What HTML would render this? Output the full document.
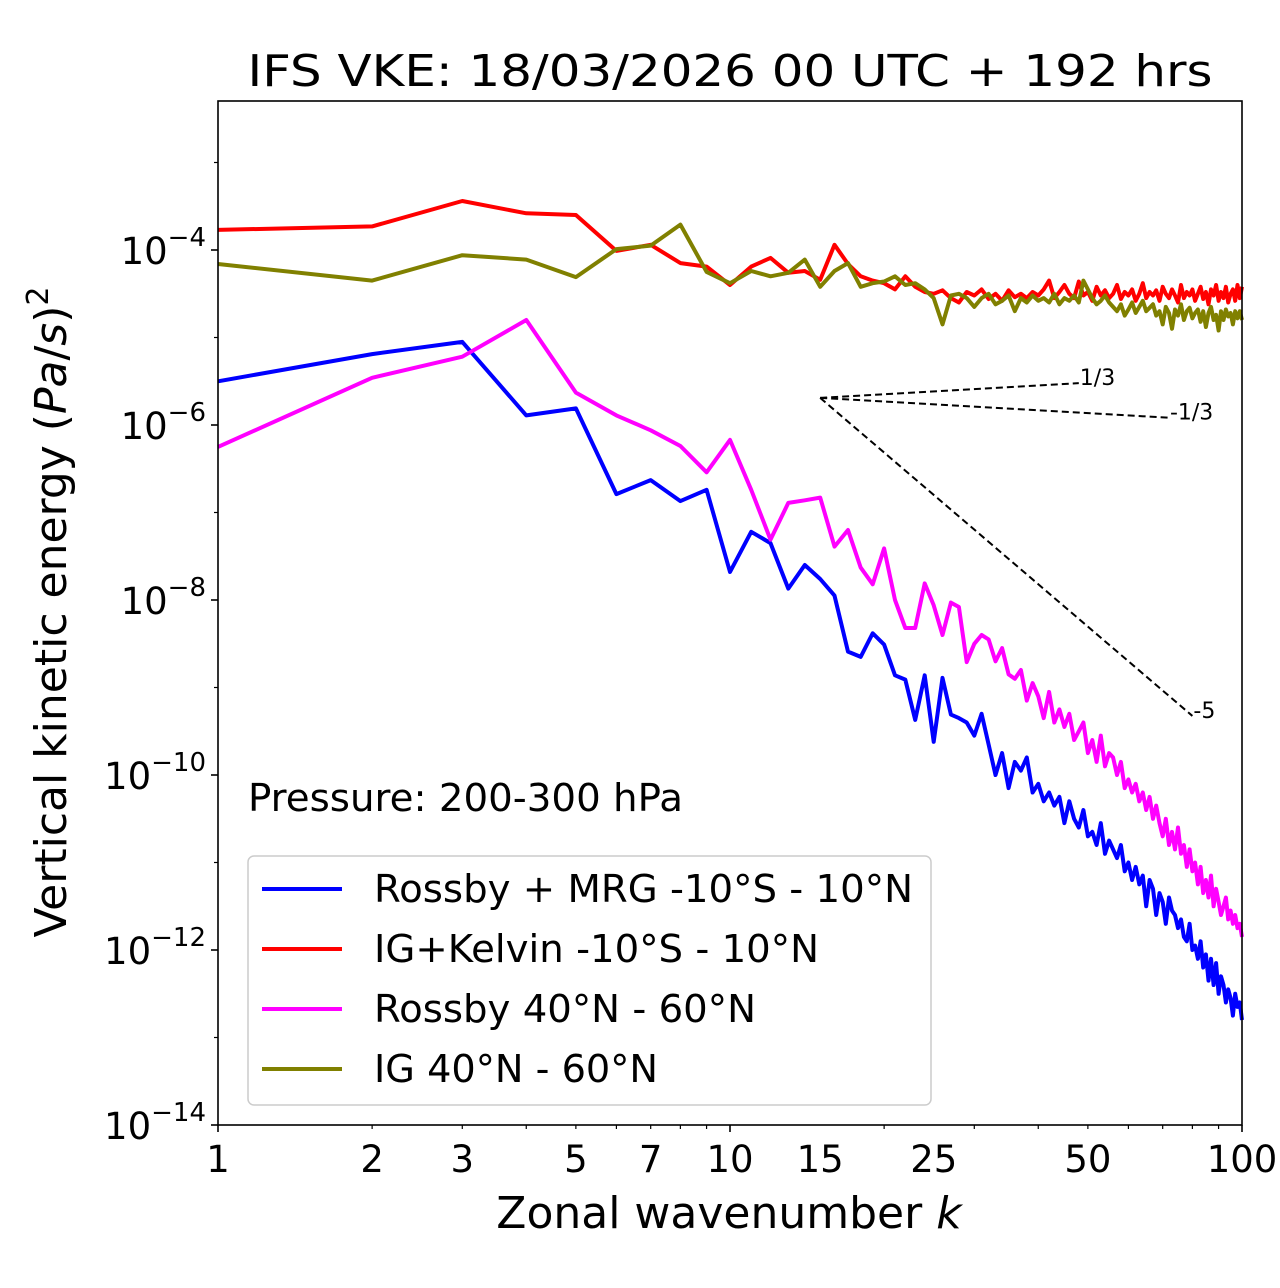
<!DOCTYPE html>
<html><head><meta charset="utf-8">
<style>
html,body{margin:0;padding:0;background:#fff;}
svg{display:block;font-family:"DejaVu Sans","Liberation Sans",sans-serif;}
</style></head>
<body>
<svg id="chart" width="1280" height="1288" viewBox="0 0 1280 1288" xmlns="http://www.w3.org/2000/svg">
<rect width="1280" height="1288" fill="#fff"/>
<text x="730" y="86" font-size="44" text-anchor="middle" textLength="965" lengthAdjust="spacingAndGlyphs">IFS VKE: 18/03/2026 00 UTC + 192 hrs</text>
<g id="plot"></g>
<rect x="218" y="101" width="1024" height="1024" fill="none" stroke="#000" stroke-width="1.6"/>
<text x="729" y="1228" font-size="44" text-anchor="middle">Zonal wavenumber <tspan font-style="italic">k</tspan></text>
<text transform="translate(66,612) rotate(-90)" font-size="44" text-anchor="middle">Vertical kinetic energy (<tspan font-style="italic">Pa</tspan>/<tspan font-style="italic">s</tspan>)<tspan font-size="30" dy="-18">2</tspan></text>
<text x="248" y="811" font-size="38" textLength="435" lengthAdjust="spacingAndGlyphs">Pressure: 200-300 hPa</text>
<g>
<rect x="248" y="856" width="683" height="249" rx="6" fill="#fff" fill-opacity="0.8" stroke="#ccc" stroke-width="1.5"/>
<g><line x1="262" y1="889" x2="342" y2="889" stroke="#0000ff" stroke-width="4"/><text x="374" y="902" font-size="38" textLength="539" lengthAdjust="spacingAndGlyphs">Rossby + MRG -10°S - 10°N</text></g>
<g><line x1="262" y1="949" x2="342" y2="949" stroke="#ff0000" stroke-width="4"/><text x="374" y="962" font-size="38" textLength="445" lengthAdjust="spacingAndGlyphs">IG+Kelvin -10°S - 10°N</text></g>
<g><line x1="262" y1="1009" x2="342" y2="1009" stroke="#ff00ff" stroke-width="4"/><text x="374" y="1022" font-size="38" textLength="382" lengthAdjust="spacingAndGlyphs">Rossby 40°N - 60°N</text></g>
<g><line x1="262" y1="1069" x2="342" y2="1069" stroke="#808000" stroke-width="4"/><text x="374" y="1082" font-size="38" textLength="284" lengthAdjust="spacingAndGlyphs">IG 40°N - 60°N</text></g>
</g>
</svg>
<script>
const xTickLabels = [1,2,3,5,7,10,15,25,50,100];
const yTickExps = [-4,-6,-8,-10,-12,-14];
const blueLog = [-5.50,-5.19,-5.05,-5.89,-5.81,-6.79,-6.63,-6.87,-6.74,-7.68,-7.22,-7.35,-7.87,-7.60,-7.76,-7.95,-8.59,-8.65,-8.38,-8.51,-8.86,-8.91,-9.37,-8.86,-9.62,-8.89,-9.31,
-9.35,-9.40,-9.55,-9.30,-9.65,-10.0,-9.75,-10.15,-9.85,-9.95,-9.8,-10.2,-10.1,-10.3,-10.2,-10.35,-10.25,-10.55,-10.3,-10.5,-10.6,-10.4,-10.7,-10.65,-10.8,-10.55,-10.9,-10.75,-10.85,-10.95,-10.8,-11.1,-11.0,-11.2,-11.05,-11.25,-11.15,-11.5,-11.2,-11.3,-11.6,-11.35,-11.45,-11.7,-11.4,-11.55,-11.6,-11.75,-11.65,-11.85,-11.9,-11.7,-12.0,-11.95,-12.1,-11.9,-12.2,-12.05,-12.35,-12.1,-12.4,-12.15,-12.5,-12.3,-12.4,-12.6,-12.45,-12.55,-12.75,-12.5,-12.65,-12.6,-12.8];
const redLog = [-3.77,-3.73,-3.44,-3.58,-3.60,-4.01,-3.94,-4.15,-4.19,-4.40,-4.19,-4.09,-4.26,-4.24,-4.34,-3.94,-4.16,-4.30,
-4.35,-4.38,-4.45,-4.30,-4.42,-4.48,-4.50,-4.46,-4.55,-4.60,
-4.48,-4.52,-4.45,-4.56,-4.50,-4.58,-4.46,-4.54,-4.50,-4.55,
-4.48,-4.52,-4.45,-4.35,-4.55,-4.48,-4.40,-4.50,-4.55,-4.36,
-4.52,-4.48,-4.58,-4.42,-4.52,-4.46,-4.55,-4.50,-4.40,-4.56,
-4.48,-4.52,-4.45,-4.58,-4.50,-4.38,-4.55,-4.48,-4.52,-4.46,
-4.58,-4.42,-4.50,-4.55,-4.45,-4.52,-4.60,-4.40,-4.55,-4.48,
-4.52,-4.45,-4.58,-4.50,-4.42,-4.56,-4.48,-4.62,-4.45,-4.52,
-4.40,-4.58,-4.48,-4.55,-4.42,-4.60,-4.50,-4.45,-4.58,-4.40,
-4.55,-4.42];
const magentaLog = [-6.25,-5.46,-5.22,-4.80,-5.63,-5.89,-6.06,-6.24,-6.54,-6.17,-6.74,-7.31,-6.89,-6.86,-6.83,-7.39,-7.20,-7.63,-7.82,-7.41,-8.0,-8.32,-8.32,-7.81,-8.06,-8.40,-8.03,-8.08,-8.71,
-8.5,-8.4,-8.45,-8.7,-8.55,-8.85,-8.9,-8.8,-9.15,-8.95,-9.1,-9.35,-9.05,-9.4,-9.25,-9.45,-9.3,-9.6,-9.5,-9.4,-9.75,-9.6,-9.85,-9.55,-9.9,-9.75,-9.8,-10.0,-9.85,-10.15,-10.05,-10.2,-10.1,-10.3,-10.2,-10.4,-10.25,-10.5,-10.35,-10.55,-10.7,-10.5,-10.8,-10.65,-10.85,-10.6,-10.9,-10.8,-11.05,-10.85,-11.1,-11.0,-11.25,-11.05,-11.35,-11.2,-11.4,-11.15,-11.5,-11.3,-11.45,-11.6,-11.5,-11.4,-11.65,-11.55,-11.7,-11.6,-11.75,-11.7,-11.85];
const oliveLog = [-4.16,-4.35,-4.06,-4.11,-4.31,-3.99,-3.95,-3.71,-4.25,-4.38,-4.24,-4.30,-4.26,-4.11,-4.42,-4.24,-4.15,-4.42,
-4.38,-4.36,-4.30,-4.40,-4.38,-4.45,-4.55,-4.85,-4.52,-4.50,
-4.55,-4.65,-4.55,-4.50,-4.62,-4.58,-4.52,-4.70,-4.55,-4.60,
-4.52,-4.58,-4.55,-4.60,-4.50,-4.62,-4.55,-4.58,-4.52,-4.60,
-4.35,-4.45,-4.55,-4.62,-4.58,-4.52,-4.60,-4.65,-4.70,-4.62,
-4.75,-4.68,-4.60,-4.72,-4.65,-4.58,-4.70,-4.66,-4.62,-4.75,
-4.70,-4.85,-4.65,-4.72,-4.90,-4.68,-4.75,-4.62,-4.80,-4.70,
-4.66,-4.78,-4.72,-4.68,-4.82,-4.70,-4.88,-4.72,-4.65,-4.80,
-4.74,-4.92,-4.70,-4.80,-4.68,-4.76,-4.72,-4.85,-4.70,-4.78,
-4.70,-4.80];
const refStartK = 15, refStartLog = -5.69;
const refSlopes = [1/3, -1/3, -5];
const refEndK = [48, 72, 80];
const refLabels = ["1/3","-1/3","-5"];

const X0=218, X1=1242, YB=1125, PXD=87.5;
const xs = k => X0 + (Math.log10(k))*(X1-X0)/2;
const ys = l => YB - (l + 14)*PXD;
const NS="http://www.w3.org/2000/svg";
const g = document.getElementById('plot');
function mk(t, a){const e=document.createElementNS(NS,t);for(const k in a)e.setAttribute(k,a[k]);g.appendChild(e);return e;}

for(let d=0; d<2; d++){
  for(let m=1;m<=9;m++){
    const k=m*Math.pow(10,d); const x=xs(k);
    const t=mk('line',{x1:x,y1:YB,x2:x,y2:YB+(m===1?7:4),stroke:'#000','stroke-width':m===1?1.6:1.2});
    
    
  }
}
{const t=mk('line',{x1:X1,y1:YB,x2:X1,y2:YB+7,stroke:'#000','stroke-width':1.6});

}
xTickLabels.forEach(k=>{
  const t=mk('text',{x:xs(k),y:YB+47,'font-size':37,'text-anchor':'middle'});
  t.textContent=String(k);
  
  
});
for(let e=-14;e<=-3;e++){
  const y=ys(e);
  const t=mk('line',{x1:X0-(e%2===0?7:4),y1:y,x2:X0,y2:y,stroke:'#000','stroke-width':e%2===0?1.6:1.2});
  
  
}
yTickExps.forEach(e=>{
  const t=mk('text',{x:X0-12,y:ys(e)+14,'font-size':37,'text-anchor':'end'});
  t.innerHTML='10<tspan font-size="26" dy="-18">\u2212'+(-e)+'</tspan>';
  
  
});
function series(arr,color,name){
  const pts=arr.map((v,i)=>xs(i+1).toFixed(1)+','+ys(v).toFixed(1)).join(' ');
  const p=mk('polyline',{points:pts,fill:'none',stroke:color,'stroke-width':4,'stroke-linejoin':'round'});
  
  
}
series(redLog,'#ff0000','series-ig-kelvin');
series(oliveLog,'#808000','series-ig-midlat');
series(blueLog,'#0000ff','series-rossby-mrg');
series(magentaLog,'#ff00ff','series-rossby-midlat');
refSlopes.forEach((s,i)=>{
  const ke=refEndK[i];
  const le=refStartLog + s*(Math.log10(ke)-Math.log10(refStartK));
  const l=mk('line',{x1:xs(refStartK),y1:ys(refStartLog),x2:xs(ke),y2:ys(le),stroke:'#000','stroke-width':2,'stroke-dasharray':'7,4'});
  
  
  const t=mk('text',{x:xs(ke)+1,y:ys(le)+2,'font-size':22});
  t.textContent=refLabels[i];
  
  
});
</script>
</body></html>
